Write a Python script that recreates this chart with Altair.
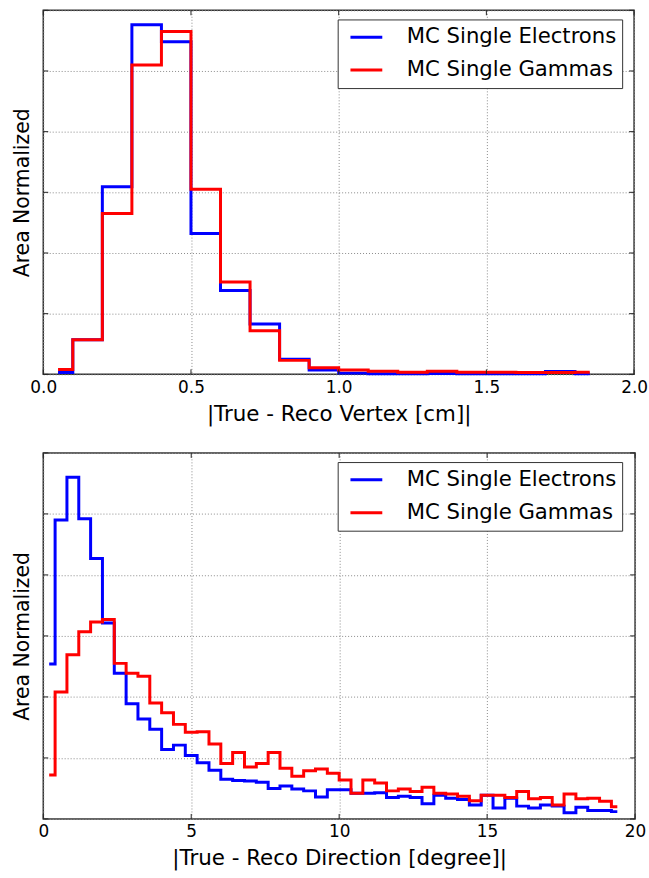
import altair as alt
import pandas as pd

SERIES = ["MC Single Electrons", "MC Single Gammas"]
COLORS = ["#0000ff", "#ff0000"]
FONT = "DejaVu Sans"

# |True - Reco Vertex| histogram: bin centres [cm] and area-normalised heights
vertex_x = [0.05, 0.15, 0.25, 0.35, 0.45, 0.55, 0.65, 0.75, 0.85, 0.95,
            1.05, 1.15, 1.25, 1.35, 1.45, 1.55, 1.65, 1.75, 1.85]
vertex_electrons = [0.03, 0.57, 3.09, 5.76, 5.48, 2.32, 1.38, 0.83, 0.25, 0.07,
                    0.02, 0.01, 0.01, 0.015, 0.01, 0.01, 0.01, 0.045, 0.01]
vertex_gammas = [0.08, 0.57, 2.65, 5.10, 5.65, 3.05, 1.52, 0.72, 0.23, 0.11,
                 0.07, 0.05, 0.035, 0.05, 0.035, 0.035, 0.03, 0.03, 0.035]

# |True - Reco Direction| histogram: bin centres [degree] and area-normalised heights
direction_x = [0.2, 0.6, 1.0, 1.4, 1.8, 2.2, 2.6, 3.0, 3.4, 3.8,
               4.2, 4.6, 5.0, 5.4, 5.8, 6.2, 6.6, 7.0, 7.4, 7.8,
               8.2, 8.6, 9.0, 9.4, 9.8, 10.2, 10.6, 11.0, 11.4, 11.8,
               12.2, 12.6, 13.0, 13.4, 13.8, 14.2, 14.6, 15.0, 15.4, 15.8,
               16.2, 16.6, 17.0, 17.4, 17.8, 18.2, 18.6, 19.0, 19.4]
direction_electrons = [2.54, 4.90, 5.60, 4.92, 4.27, 3.21, 2.39, 1.89, 1.64, 1.47,
                       1.14, 1.21, 1.04, 0.92, 0.80, 0.65, 0.63, 0.62, 0.60, 0.50,
                       0.54, 0.49, 0.46, 0.36, 0.48, 0.48, 0.42, 0.42, 0.43, 0.35,
                       0.37, 0.35, 0.25, 0.39, 0.34, 0.32, 0.23, 0.39, 0.18, 0.34,
                       0.21, 0.18, 0.23, 0.21, 0.10, 0.19, 0.14, 0.14, 0.12]
direction_gammas = [0.72, 2.08, 2.69, 3.07, 3.23, 3.27, 2.55, 2.39, 2.34, 1.90,
                    1.74, 1.55, 1.42, 1.43, 1.23, 0.91, 1.09, 0.85, 0.91, 1.09,
                    0.83, 0.70, 0.79, 0.82, 0.75, 0.64, 0.42, 0.64, 0.59, 0.46,
                    0.49, 0.45, 0.52, 0.42, 0.41, 0.37, 0.30, 0.39, 0.39, 0.35,
                    0.45, 0.33, 0.35, 0.23, 0.41, 0.33, 0.34, 0.29, 0.20]

y_ticks = [0, 1, 2, 3, 4, 5, 6]
vertex_ticks = [0.0, 0.5, 1.0, 1.5, 2.0]
direction_ticks = [0, 5, 10, 15, 20]

# legend line glyph: a flat stroke twice the nominal symbol width
LEGEND_LINE = "M-2,0H2"


def long_table(xs, electrons, gammas):
    rows = []
    for name, vals in zip(SERIES, [electrons, gammas]):
        for x, v in zip(xs, vals):
            rows.append({"x": x, "v": v, "series": name})
    return pd.DataFrame(rows)


def panel(df, xdomain, xticks, xfmt, xtitle, width, height, legend_x, legend_y):
    xscale = alt.Scale(domain=xdomain, nice=False, zero=False)
    yscale = alt.Scale(domain=[0, 6], nice=False, zero=True)
    xaxis = alt.Axis(values=xticks, format=xfmt, title=xtitle,
                     grid=True, gridDash=[1, 2], gridColor="#8a8a8a",
                     ticks=False, domain=False, labelPadding=5, labelFlush=False,
                     labelFontSize=17, titleFontSize=21.5,
                     titleFontWeight="normal", titlePadding=8,
                     labelFont=FONT, titleFont=FONT,
                     labelColor="black", titleColor="black")
    yaxis = alt.Axis(values=y_ticks, labels=False, title="Area Normalized",
                     grid=True, gridDash=[1, 2], gridColor="#8a8a8a",
                     ticks=False, domain=False, titlePadding=11,
                     titleFontSize=20.5, titleFontWeight="normal",
                     titleFont=FONT, titleColor="black")

    steps = alt.Chart(df).mark_line(interpolate="step", strokeWidth=3).encode(
        x=alt.X("x:Q", scale=xscale, axis=xaxis),
        y=alt.Y("v:Q", scale=yscale, axis=yaxis),
        color=alt.Color("series:N", scale=alt.Scale(domain=SERIES, range=COLORS),
                        legend=alt.Legend(orient="none", legendX=legend_x, legendY=legend_y,
                                          title=None, symbolType=LEGEND_LINE, symbolSize=256,
                                          symbolStrokeWidth=3, symbolFillColor="transparent",
                                          labelFontSize=21.3, clipHeight=25.6,
                                          labelFont=FONT, labelColor="black",
                                          labelLimit=400, labelOffset=30, padding=5,
                                          symbolOffset=13.2, rowPadding=7.1,
                                          fillColor="white", strokeColor="#333333")),
    )

    # inward tick marks on all four sides of the frame
    xt = pd.DataFrame({"x": xticks})
    yt = pd.DataFrame({"v": y_ticks})
    tick_style = dict(color="#222222", strokeWidth=1)
    top_ticks = alt.Chart(xt).mark_rule(**tick_style).encode(
        x=alt.X("x:Q", scale=xscale, axis=xaxis), y=alt.value(0), y2=alt.value(5))
    bottom_ticks = alt.Chart(xt).mark_rule(**tick_style).encode(
        x=alt.X("x:Q", scale=xscale, axis=xaxis), y=alt.value(height - 5), y2=alt.value(height))
    left_ticks = alt.Chart(yt).mark_rule(**tick_style).encode(
        y=alt.Y("v:Q", scale=yscale, axis=yaxis), x=alt.value(0), x2=alt.value(5))
    right_ticks = alt.Chart(yt).mark_rule(**tick_style).encode(
        y=alt.Y("v:Q", scale=yscale, axis=yaxis), x=alt.value(width - 5), x2=alt.value(width))

    return alt.layer(steps, top_ticks, bottom_ticks, left_ticks, right_ticks).properties(
        width=width, height=height)


vertex = panel(long_table(vertex_x, vertex_electrons, vertex_gammas),
               [0, 2], vertex_ticks, ".1f", "|True - Reco Vertex [cm]|",
               594, 366, 296, 9.2)
direction = panel(long_table(direction_x, direction_electrons, direction_gammas),
                  [0, 20], direction_ticks, "d", "|True - Reco Direction [degree]|",
                  595, 368, 296, 9.2)

chart = alt.vconcat(vertex, direction, spacing=25).resolve_scale(
    color="independent"
).properties(
    padding={"left": 11.5, "top": 6, "right": 0, "bottom": 0},
    background="white",
).configure_view(
    stroke="#333333", strokeWidth=1.5
)

chart.save("out.html", embed_options={"renderer": "svg", "actions": False})
